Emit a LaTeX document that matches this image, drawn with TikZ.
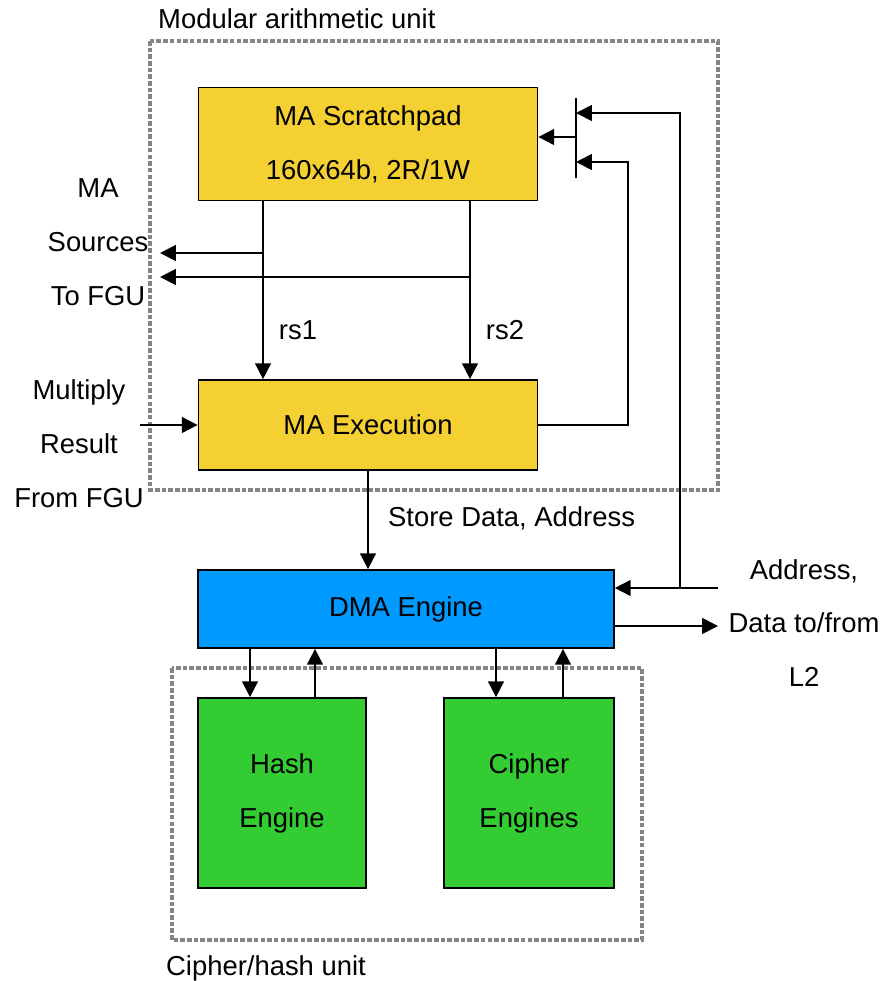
\documentclass[tikz,border=0pt]{standalone}
\usepackage{fontspec}
\setmainfont{Liberation Sans}
\usetikzlibrary{arrows.meta}
\definecolor{maYellow}{HTML}{F5D033}
\definecolor{dmaBlue}{HTML}{0099FF}
\definecolor{engGreen}{HTML}{33CC33}
\definecolor{unitGray}{HTML}{858585}

\begin{document}
\begin{tikzpicture}[x=0.02cm, y=-0.02cm, font=\fontsize{15.6}{30.7}\selectfont,
    blk/.style={draw=black, line width=1pt, inner sep=0pt, align=center},
    unit/.style={draw=unitGray, line width=2.8pt, dash pattern=on 2.6pt off 1.2pt},
    wire/.style={line width=1pt},
    arr/.style={wire, -{Triangle[length=9pt, width=9pt]}}]
    \useasboundingbox (0,0) rectangle (890,981);
    % unit borders
    \draw[unit] (150,41) rectangle (718,490);
    \draw[unit] (172,668) rectangle (642,940);
    \node[anchor=base west] (malbl) at (152,28) {Modular arithmetic unit};
    \node[anchor=base west] (chlbl) at (160,975) {Cipher/hash unit};
    % blocks
    \node[blk, fill=maYellow, minimum width=6.78cm, minimum height=2.26cm] (scratch) at (368,144) {MA Scratchpad\\160x64b, 2R/1W};
    \node[blk, fill=maYellow, minimum width=6.78cm, minimum height=1.8cm] (exec) at (368,425) {MA Execution};
    \node[blk, fill=dmaBlue, minimum width=8.32cm, minimum height=1.56cm] (dma) at (406,609) {DMA Engine};
    \node[blk, fill=engGreen, minimum width=3.36cm, minimum height=3.8cm] (hash) at (282,793) {Hash\\Engine};
    \node[blk, fill=engGreen, minimum width=3.4cm, minimum height=3.8cm] (cipher) at (529,793) {Cipher\\Engines};
    % outside labels
    \node[align=center] (srclbl) at (98,242) {MA\\Sources\\To FGU};
    \node[align=center] (mullbl) at (79,444) {Multiply\\Result\\From FGU};
    \node[align=center] (l2lbl) at (804,623) {Address,\\Data to/from\\L2};
    \node (rsa) at (298,330) {rs1};
    \node (rsb) at (505,330) {rs2};
    \node[anchor=west] (stlbl) at (382,518) {Store Data, Address};
    % mux in front of scratchpad
    \coordinate (muxtop) at (576,98);
    \coordinate (muxbot) at (576,178);
    \coordinate (muxout) at (576,137);
    \draw[wire] (muxtop) -- (muxbot);
    \draw[arr] (muxout) -- (scratch.east |- muxout);
    % scratchpad sources
    \coordinate (tap1) at (263,253);
    \coordinate (tap2) at (470,277);
    \coordinate (fgu1) at (160,253);
    \coordinate (fgu2) at (160,277);
    \draw[arr] (scratch.south -| tap1) -- (exec.north -| tap1);
    \draw[arr] (scratch.south -| tap2) -- (exec.north -| tap2);
    \draw[arr] (tap1) -- (fgu1);
    \draw[arr] (tap2) -- (fgu2);
    % multiply result in
    \coordinate (mulin) at (140,425);
    \draw[arr] (mulin) -- (exec.west);
    % result back to mux
    \coordinate (loopb) at (628,162);
    \draw[arr] (exec.east) -| (loopb) -- (muxtop |- loopb);
    % store data to DMA
    \draw[arr] (exec.south) -- (dma.north -| exec.south);
    % L2 side
    \coordinate (l2in) at (718,588);
    \coordinate (l2out) at (718,626);
    \coordinate (loopa) at (680,113);
    \draw[arr] (l2in) -- (dma.east |- l2in);
    \draw[arr] (l2in -| loopa) -- (loopa) -- (muxtop |- loopa);
    \draw[arr] (dma.east |- l2out) -- (l2out);
    % DMA <-> engines
    \draw[arr] (dma.south -| 250,0) -- (hash.north -| 250,0);
    \draw[arr] (hash.north -| 315,0) -- (dma.south -| 315,0);
    \draw[arr] (dma.south -| 496,0) -- (cipher.north -| 496,0);
    \draw[arr] (cipher.north -| 563,0) -- (dma.south -| 563,0);
\end{tikzpicture}
\end{document}
